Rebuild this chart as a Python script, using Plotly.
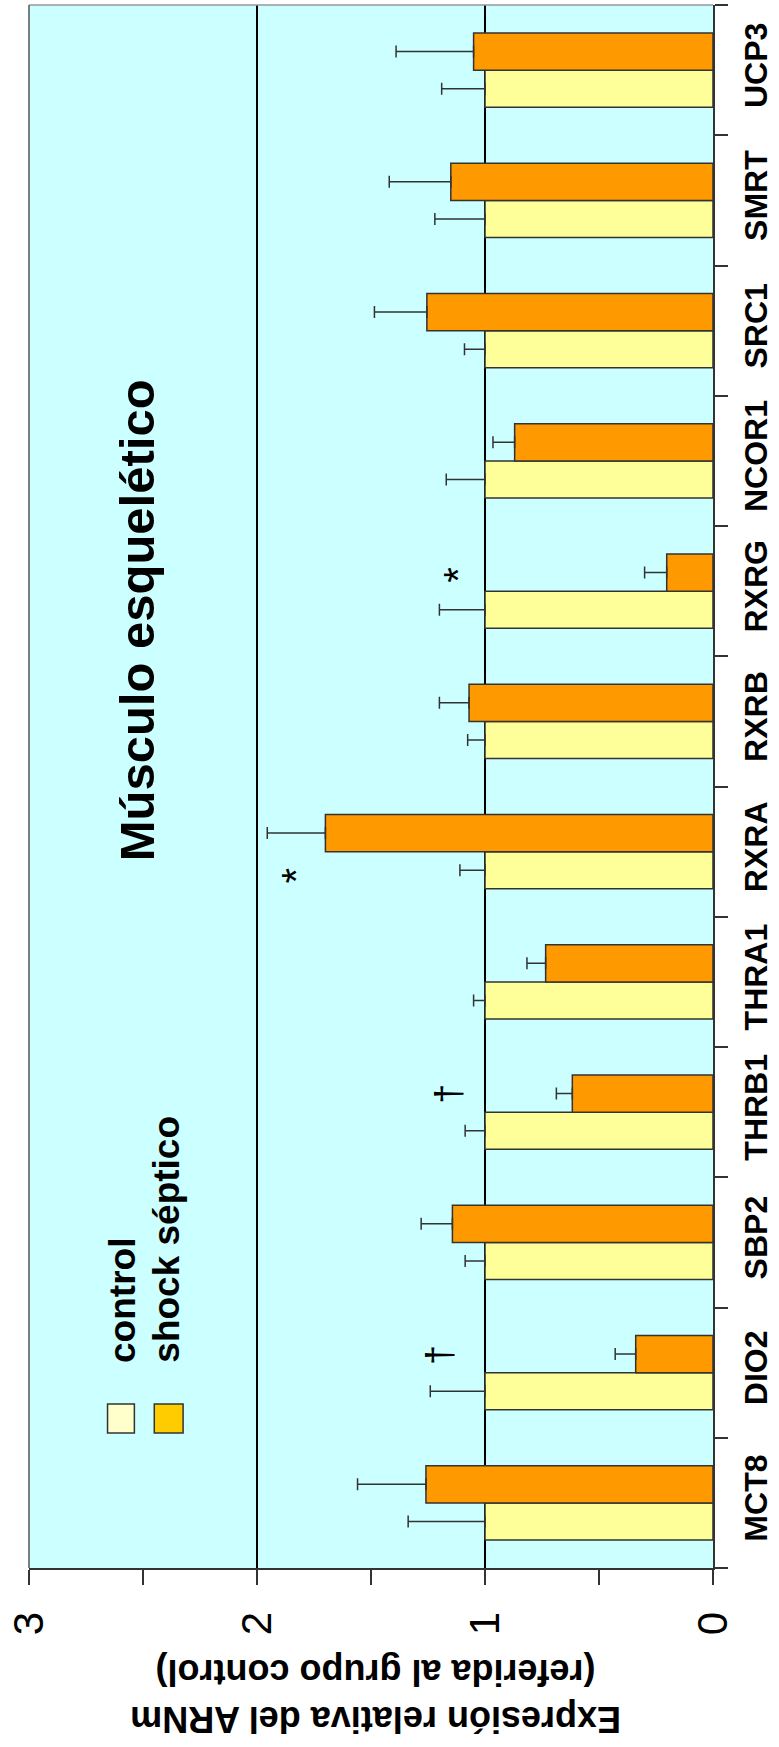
import plotly.graph_objects as go

# ---------------- data ----------------
categories = ["MCT8", "DIO2", "SBP2", "THRB1", "THRA1", "RXRA",
              "RXRB", "RXRG", "NCOR1", "SRC1", "SMRT", "UCP3"]
control_vals = [1.0] * 12
control_err = [0.337, 0.24, 0.087, 0.087, 0.05, 0.11,
               0.076, 0.20, 0.17, 0.09, 0.22, 0.19]
shock_vals = [1.259, 0.339, 1.143, 0.617, 0.734, 1.70,
              1.07, 0.203, 0.87, 1.255, 1.15, 1.05]
shock_err = [0.30, 0.09, 0.137, 0.07, 0.082, 0.255,
             0.13, 0.097, 0.095, 0.23, 0.27, 0.34]
x_tick_vals = [0, 1, 2, 3]
x_tick_text = ["0", "1", "2", "3"]
x_minor_vals = [0.5, 1.5, 2.5]
# significance marks: (category, symbol, x value)
sig_marks = [("DIO2", "†", 1.20), ("THRB1", "†", 1.16),
             ("RXRA", "*", 1.83), ("RXRG", "*", 1.12)]

# ---------------- layout geometry ----------------
W, H = 779, 1747
ML, MR, MT, MB = 27, 64, 5, 179
PW, PH = W - ML - MR, H - MT - MB


def px(xp):
    return (xp - ML) / PW


def py(yp):
    return (H - MB - yp) / PH


FONT = "Liberation Sans, Arial, sans-serif"
DARK = "#333333"

fig = go.Figure()
fig.add_trace(go.Bar(
    name="control", orientation="h", x=control_vals, y=categories,
    marker=dict(color="#FFFF99", line=dict(color=DARK, width=1.5)),
    error_x=dict(type="data", array=control_err, arrayminus=[0] * 12,
                 symmetric=False, color=DARK, thickness=1.5, width=6),
))
fig.add_trace(go.Bar(
    name="shock séptico", orientation="h", x=shock_vals, y=categories,
    marker=dict(color="#FF9900", line=dict(color=DARK, width=1.5)),
    error_x=dict(type="data", array=shock_err, arrayminus=[0] * 12,
                 symmetric=False, color=DARK, thickness=1.5, width=6),
))

annotations = []
for cat, sym, xv in sig_marks:
    if sym == "†":
        shift, size = 18, 36
    else:
        shift, size = (-24 if cat == "RXRA" else 16), 40
    annotations.append(dict(
        x=xv, y=cat, xref="x", yref="y", yshift=shift, text=sym,
        showarrow=False, textangle=-90,
        font=dict(family=FONT, size=size, color="black"),
    ))

# title
annotations.append(dict(
    x=px(136), y=py(620), xref="paper", yref="paper", text="<b>Músculo esquelético</b>",
    showarrow=False, textangle=-90, xanchor="center", yanchor="middle",
    font=dict(family=FONT, size=49, color="black"),
))
# legend texts
annotations.append(dict(
    x=px(121), y=py(1365), xref="paper", yref="paper", text="<b>control</b>",
    showarrow=False, textangle=-90, xanchor="center", yanchor="bottom",
    font=dict(family=FONT, size=37, color="black"),
))
annotations.append(dict(
    x=px(165), y=py(1365), xref="paper", yref="paper", text="<b>shock séptico</b>",
    showarrow=False, textangle=-90, xanchor="center", yanchor="bottom",
    font=dict(family=FONT, size=37, color="black"),
))
# value axis title (upside down)
annotations.append(dict(
    x=px(375), y=py(1696), xref="paper", yref="paper",
    text="<b>Expresión relativa del ARNm<br>(referida al grupo control)</b>",
    showarrow=False, textangle=180, xanchor="center", yanchor="middle",
    font=dict(family=FONT, size=36, color="black"),
))

shapes = [
    # legend swatches
    dict(type="rect", xref="paper", yref="paper", x0=px(106), x1=px(133),
         y0=py(1433), y1=py(1404), fillcolor="#FFFFCC", line=dict(color=DARK, width=1.5)),
    dict(type="rect", xref="paper", yref="paper", x0=px(153), x1=px(182),
         y0=py(1433), y1=py(1404), fillcolor="#FFCC00", line=dict(color=DARK, width=1.5)),
    # top and left frame
    dict(type="line", xref="paper", yref="paper", x0=0, x1=1, y0=1, y1=1,
         line=dict(color="#999999", width=1.5)),
    dict(type="line", xref="paper", yref="paper", x0=0, x1=0, y0=0, y1=1,
         line=dict(color="#555555", width=1.5)),
]

fig.update_layout(
    width=W, height=H,
    margin=dict(l=ML, r=MR, t=MT, b=MB, pad=0),
    paper_bgcolor="white", plot_bgcolor="#CCFFFF",
    barmode="group", bargap=0.43, bargroupgap=0,
    showlegend=False,
    annotations=annotations, shapes=shapes,
    xaxis=dict(
        range=[3, 0], tickmode="array", tickvals=x_tick_vals, ticktext=x_tick_text,
        ticks="outside", ticklen=15, tickwidth=1.5, tickcolor=DARK,
        minor=dict(tickmode="array", tickvals=x_minor_vals, ticks="outside",
                   ticklen=15, tickwidth=1.5, tickcolor=DARK, showgrid=False),
        showgrid=True, gridcolor="black", gridwidth=1.5,
        showline=True, linecolor=DARK, linewidth=2, zeroline=False,
        tickangle=-90, ticklabelstandoff=10,
        tickfont=dict(family=FONT, size=42, color="black"),
    ),
    yaxis=dict(
        type="category", categoryorder="array", categoryarray=categories,
        range=[-0.5, 11.5], side="right", tickson="boundaries",
        ticks="outside", ticklen=13, tickwidth=1.5, tickcolor=DARK,
        showline=True, linecolor=DARK, linewidth=2, showgrid=False, zeroline=False,
        tickangle=-90, ticklabelstandoff=14,
        tickfont=dict(family=FONT, size=32, color="black", weight="bold"),
    ),
)

fig.write_html("out.html")
